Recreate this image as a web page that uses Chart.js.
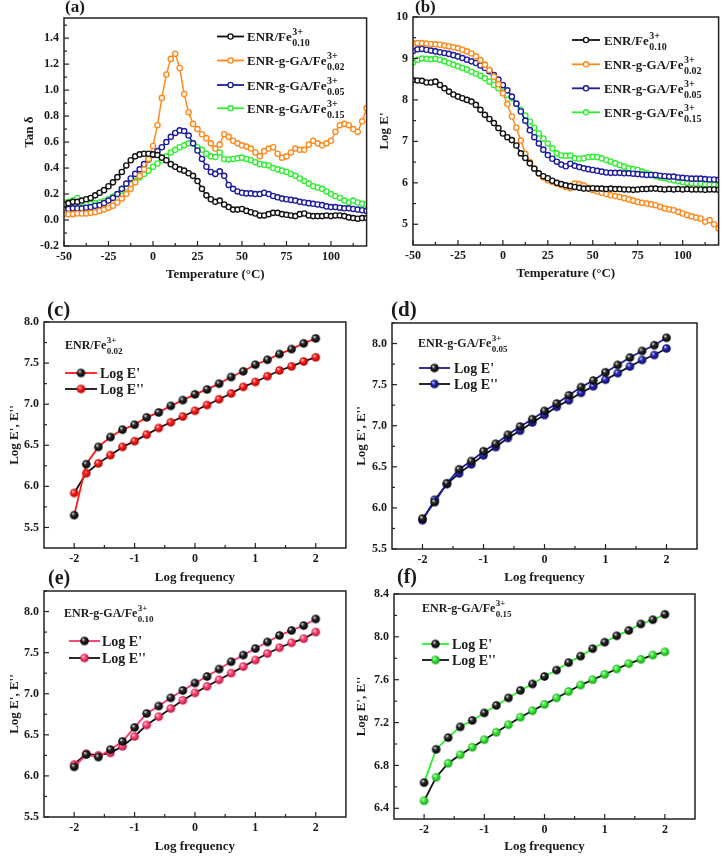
<!DOCTYPE html>
<html><head><meta charset="utf-8">
<script src="https://cdn.jsdelivr.net/npm/chart.js@4.4.1/dist/chart.umd.min.js"></script>
<style>
html,body{margin:0;padding:0;background:#fff;}
body{width:724px;height:856px;position:relative;overflow:hidden;}
</style></head><body>
<script>
// ---------------- data ----------------
const tempC = [-50,-47.5,-45,-42.5,-40,-37.5,-35,-32.5,-30,-27.5,-25,-22.5,-20,-17.5,-15,-12.5,-10,-7.5,-5,-2.5,0,2.5,5,7.5,10,12.5,15,17.5,20,22.5,25,27.5,30,32.5,35,37.5,40,42.5,45,47.5,50,52.5,55,57.5,60,62.5,65,67.5,70,72.5,75,77.5,80,82.5,85,87.5,90,92.5,95,97.5,100,102.5,105,107.5,110,112.5,115,117.5,120];

const tanEnrFe010 = [0.12,0.13,0.14,0.14,0.15,0.16,0.17,0.19,0.21,0.23,0.26,0.29,0.33,0.37,0.42,0.46,0.49,0.505,0.51,0.51,0.505,0.50,0.48,0.46,0.43,0.41,0.39,0.38,0.36,0.34,0.30,0.24,0.19,0.16,0.14,0.15,0.12,0.10,0.08,0.08,0.085,0.07,0.06,0.05,0.035,0.035,0.045,0.055,0.055,0.045,0.04,0.035,0.03,0.045,0.05,0.035,0.03,0.03,0.03,0.035,0.03,0.035,0.035,0.03,0.02,0.015,0.01,0.015,0.015];
const tanGaFe002 = [0.045,0.045,0.045,0.05,0.05,0.05,0.055,0.06,0.07,0.08,0.095,0.11,0.135,0.165,0.20,0.24,0.29,0.34,0.39,0.47,0.57,0.73,0.94,1.12,1.24,1.28,1.17,0.97,0.83,0.74,0.70,0.66,0.63,0.59,0.55,0.58,0.66,0.64,0.61,0.59,0.575,0.565,0.55,0.52,0.49,0.53,0.55,0.56,0.51,0.48,0.49,0.52,0.55,0.54,0.54,0.58,0.61,0.59,0.575,0.59,0.61,0.68,0.73,0.74,0.73,0.70,0.68,0.76,0.86];
const tanGaFe005 = [0.08,0.085,0.09,0.09,0.09,0.095,0.10,0.11,0.115,0.13,0.15,0.17,0.20,0.24,0.28,0.32,0.355,0.39,0.43,0.465,0.50,0.53,0.56,0.60,0.64,0.67,0.69,0.685,0.65,0.59,0.535,0.47,0.41,0.37,0.355,0.375,0.34,0.27,0.24,0.22,0.21,0.205,0.205,0.20,0.20,0.21,0.20,0.185,0.175,0.165,0.16,0.155,0.15,0.14,0.135,0.13,0.125,0.12,0.115,0.105,0.10,0.10,0.095,0.09,0.09,0.085,0.08,0.075,0.07];
const tanGaFe015 = [0.135,0.14,0.15,0.17,0.135,0.13,0.125,0.13,0.135,0.145,0.16,0.18,0.20,0.225,0.25,0.275,0.30,0.33,0.355,0.38,0.41,0.435,0.46,0.49,0.52,0.54,0.56,0.575,0.59,0.59,0.56,0.54,0.51,0.49,0.485,0.52,0.47,0.465,0.47,0.475,0.48,0.47,0.46,0.445,0.43,0.425,0.42,0.40,0.39,0.38,0.37,0.355,0.34,0.32,0.30,0.28,0.26,0.25,0.24,0.22,0.20,0.185,0.17,0.15,0.135,0.15,0.135,0.125,0.12];

const logEEnrFe010 = [8.48,8.47,8.46,8.42,8.42,8.44,8.36,8.28,8.20,8.13,8.08,8.04,8.00,7.96,7.88,7.76,7.64,7.54,7.44,7.32,7.19,7.10,7.03,6.90,6.71,6.60,6.47,6.34,6.23,6.16,6.11,6.05,6.00,5.97,5.94,5.92,5.90,5.88,5.86,5.86,5.87,5.86,5.86,5.85,5.86,5.85,5.85,5.84,5.84,5.83,5.84,5.85,5.85,5.86,5.86,5.85,5.84,5.85,5.84,5.85,5.84,5.85,5.84,5.84,5.84,5.83,5.84,5.84,5.83];
const logEGaFe002 = [9.37,9.37,9.37,9.36,9.35,9.34,9.33,9.31,9.29,9.27,9.25,9.21,9.17,9.12,9.05,8.96,8.85,8.72,8.56,8.38,8.16,7.90,7.60,7.33,7.02,6.70,6.50,6.35,6.22,6.13,6.06,6.02,5.98,5.94,5.90,5.87,5.98,5.97,5.94,5.88,5.82,5.79,5.76,5.73,5.70,5.68,5.66,5.63,5.60,5.57,5.54,5.52,5.50,5.48,5.46,5.42,5.38,5.36,5.34,5.30,5.26,5.22,5.19,5.16,5.14,5.06,5.10,5.00,4.90];
const logEGaFe005 = [9.18,9.22,9.23,9.21,9.19,9.17,9.15,9.13,9.11,9.08,9.05,9.01,8.97,8.93,8.89,8.83,8.77,8.69,8.60,8.49,8.36,8.23,8.08,7.91,7.72,7.50,7.27,7.10,6.95,6.80,6.67,6.58,6.51,6.44,6.40,6.46,6.41,6.38,6.35,6.33,6.31,6.29,6.27,6.25,6.24,6.24,6.24,6.23,6.23,6.22,6.21,6.20,6.19,6.19,6.19,6.17,6.16,6.15,6.15,6.13,6.12,6.11,6.10,6.10,6.10,6.09,6.08,6.08,6.07];
const logEGaFe015 = [8.90,8.97,9.00,8.99,8.98,8.99,8.97,8.93,8.89,8.85,8.81,8.77,8.73,8.68,8.63,8.58,8.52,8.44,8.36,8.28,8.20,8.12,8.04,7.90,7.76,7.62,7.48,7.33,7.19,7.07,6.95,6.83,6.71,6.66,6.65,6.66,6.59,6.58,6.59,6.62,6.63,6.62,6.59,6.55,6.51,6.47,6.43,6.39,6.35,6.33,6.31,6.27,6.23,6.20,6.16,6.13,6.11,6.08,6.06,6.04,6.02,6.00,5.99,5.98,5.98,5.97,5.96,5.95,5.94];

const logFreq = [-2,-1.8,-1.6,-1.4,-1.2,-1,-0.8,-0.6,-0.4,-0.2,0,0.2,0.4,0.6,0.8,1,1.2,1.4,1.6,1.8,2];
const ePrimeC  = [5.65,6.27,6.48,6.60,6.69,6.75,6.84,6.90,6.98,7.05,7.12,7.18,7.25,7.33,7.40,7.48,7.54,7.61,7.67,7.74,7.80];
const eDoubleC = [5.92,6.16,6.28,6.38,6.48,6.55,6.63,6.71,6.78,6.85,6.92,6.99,7.06,7.13,7.21,7.27,7.34,7.41,7.46,7.52,7.57];
const ePrimeD  = [5.87,6.07,6.30,6.47,6.57,6.69,6.78,6.89,6.99,7.08,7.18,7.27,7.37,7.47,7.55,7.65,7.74,7.83,7.91,7.98,8.07];
const eDoubleD = [5.85,6.10,6.29,6.42,6.53,6.64,6.74,6.85,6.94,7.04,7.13,7.23,7.31,7.40,7.48,7.56,7.64,7.72,7.80,7.86,7.94];
const ePrimeE  = [6.11,6.26,6.23,6.32,6.42,6.59,6.76,6.85,6.95,7.04,7.13,7.21,7.30,7.39,7.47,7.55,7.63,7.71,7.77,7.83,7.91];
const eDoubleE = [6.14,6.27,6.25,6.28,6.36,6.48,6.62,6.72,6.82,6.92,7.01,7.09,7.17,7.25,7.33,7.41,7.49,7.56,7.62,7.67,7.75];
const ePrimeF  = [6.64,6.95,7.06,7.16,7.22,7.29,7.36,7.43,7.50,7.56,7.63,7.69,7.76,7.82,7.89,7.95,8.01,8.06,8.12,8.16,8.21];
const eDoubleF = [6.47,6.69,6.82,6.90,6.97,7.04,7.11,7.18,7.25,7.31,7.37,7.43,7.49,7.55,7.60,7.65,7.70,7.75,7.79,7.83,7.86];

// tick values / labels
const tempTicks = [-50,-25,0,25,50,75,100];
const tempTickLabels = ['-50','-25','0','25','50','75','100'];
const tempMinor = [-37.5,-12.5,12.5,37.5,62.5,87.5,112.5];
const tanTicks = [-0.2,0,0.2,0.4,0.6,0.8,1.0,1.2,1.4];
const tanTickLabels = ['-0.2','0.0','0.2','0.4','0.6','0.8','1.0','1.2','1.4'];
const tanMinor = [-0.1,0.1,0.3,0.5,0.7,0.9,1.1,1.3,1.5];
const modTicks = [5,6,7,8,9,10];
const modTickLabels = ['5','6','7','8','9','10'];
const modMinor = [5.5,6.5,7.5,8.5,9.5];
const freqTicks = [-2,-1,0,1,2];
const freqTickLabels = ['-2','-1','0','1','2'];
const freqMinor = [-1.5,-0.5,0.5,1.5];
const eTicks = [5.5,6.0,6.5,7.0,7.5,8.0];
const eTickLabels = ['5.5','6.0','6.5','7.0','7.5','8.0'];
const eMinor = [5.75,6.25,6.75,7.25,7.75];
const eMinorUp = [5.75,6.25,6.75,7.25,7.75,8.25];
const eTicksF = [6.4,6.8,7.2,7.6,8.0,8.4];
const eTickLabelsF = ['6.4','6.8','7.2','7.6','8.0','8.4'];
const eMinorF = [6.6,7.0,7.4,7.8,8.2];

// series names
const tempSeries = [
  {main:'ENR/Fe', sup:'3+', sub:'0.10'},
  {main:'ENR-g-GA/Fe', sup:'3+', sub:'0.02'},
  {main:'ENR-g-GA/Fe', sup:'3+', sub:'0.05'},
  {main:'ENR-g-GA/Fe', sup:'3+', sub:'0.15'}
];

// ---------------- styling ----------------
const FONT = '"Liberation Serif", "Times New Roman", serif';
const INK = '#1a1a1a';
const C_BLACK = '#111111', C_ORANGE = '#ff8a1e', C_BLUE = '#1d1d9c', C_GREEN = '#30ee30';
const C_RED = '#ff1a1a', C_PINK = '#ff3366';

function ball(color, hi, dark, r){
  const s = Math.ceil(r*2)+2;
  const c = document.createElement('canvas'); c.width = s; c.height = s;
  const g = c.getContext('2d');
  const cx = s/2, cy = s/2;
  const grd = g.createRadialGradient(cx - r*0.35, cy - r*0.4, r*0.05, cx, cy, r);
  grd.addColorStop(0, hi); grd.addColorStop(0.38, color); grd.addColorStop(1, dark);
  g.fillStyle = grd; g.beginPath(); g.arc(cx, cy, r, 0, Math.PI*2); g.fill();
  return c;
}
const BR = 4.3;
const ballBlack = ball('#2a2a2a', '#f0f0f0', '#000000', BR);
const ballRed = ball('#ff2020', '#ffe0e0', '#b00000', BR);
const ballBlue = ball('#2a2ab8', '#e0e0ff', '#0a0a60', BR);
const ballPink = ball('#ff4d76', '#ffe8ee', '#c01040', BR);
const ballGreen = ball('#3cf03c', '#f0fff0', '#10a010', BR);

function pts(xs, ys){ return xs.map((x,i)=>({x:x, y:ys[i]})); }

function tempDs(label, ys, color){
  return {label:label, data:pts(tempC, ys), borderColor:color, borderWidth:1.5,
    pointRadius:2.6, pointBorderWidth:1.4, pointBorderColor:color, pointBackgroundColor:'#ffffff',
    fill:false, tension:0};
}
function freqDs(label, ys, lineColor, ballImg){
  return {label:label, data:pts(logFreq, ys), borderColor:lineColor, borderWidth:1.8,
    pointRadius:4.3, pointStyle:ballImg, fill:false, tension:0};
}

function chem(ctx, x, y, t, big, small, supDy, subDy){
  ctx.font = 'bold '+big+'px '+FONT;
  ctx.fillText(t.main, x, y);
  const w = ctx.measureText(t.main).width;
  ctx.font = 'bold '+small+'px '+FONT;
  ctx.fillText(t.sup, x+w+0.5, y+supDy);
  ctx.fillText(t.sub, x+w+0.5, y+subDy);
}

function decor(p){
  return {
    id:'decor_'+p.id,
    afterDraw(chart){
      const ctx = chart.ctx, a = chart.chartArea, xs = chart.scales.x, ys = chart.scales.y;
      ctx.save();
      ctx.strokeStyle = '#222'; ctx.lineWidth = 1.5;
      ctx.strokeRect(a.left, a.top, a.right-a.left, a.bottom-a.top);
      ctx.lineWidth = 1.2;
      const tick = (v, len, horiz) => {
        ctx.beginPath();
        if (horiz){ const px = xs.getPixelForValue(v); ctx.moveTo(px, a.bottom); ctx.lineTo(px, a.bottom-len); }
        else { const py = ys.getPixelForValue(v); ctx.moveTo(a.left, py); ctx.lineTo(a.left+len, py); }
        ctx.stroke();
      };
      p.xMajor.forEach(v=>tick(v,5,true)); p.xMinor.forEach(v=>tick(v,3,true));
      p.yMajor.forEach(v=>tick(v,5,false)); p.yMinor.forEach(v=>tick(v,3,false));
      // panel label
      ctx.fillStyle = INK; ctx.textBaseline = 'alphabetic'; ctx.textAlign = 'left';
      ctx.font = 'bold '+p.labelSize+'px '+FONT;
      ctx.fillText(p.label, p.labelX - p.L, p.labelY - p.T);
      // legend
      if (p.tempLegend){
        const lg = p.tempLegend;
        chart.data.datasets.forEach((ds, i) => {
          const y = a.top + lg.rows[i];
          const x0 = a.left + lg.x0, x1 = a.left + lg.x1;
          ctx.strokeStyle = ds.borderColor; ctx.lineWidth = 1.8;
          ctx.beginPath(); ctx.moveTo(x0, y); ctx.lineTo(x1, y); ctx.stroke();
          ctx.fillStyle = '#fff'; ctx.lineWidth = 1.4;
          ctx.beginPath(); ctx.arc((x0+x1)/2, y, 2.6, 0, Math.PI*2); ctx.fill(); ctx.stroke();
          ctx.fillStyle = INK;
          chem(ctx, a.left + lg.tx, y + 4.5, tempSeries[i], 13, 10, -6, 5);
        });
      }
      if (p.freqLegend){
        const lg = p.freqLegend;
        ctx.fillStyle = INK;
        chem(ctx, a.left + lg.hx, a.top + lg.hy, lg.head, 12, 9, -6.5, 4.5);
        chart.data.datasets.forEach((ds, i) => {
          const y = a.top + lg.rows[i];
          const x0 = a.left + lg.x0, x1 = a.left + lg.x1;
          ctx.strokeStyle = ds.borderColor; ctx.lineWidth = 1.8;
          ctx.beginPath(); ctx.moveTo(x0, y); ctx.lineTo(x1, y); ctx.stroke();
          const img = ds.pointStyle;
          ctx.drawImage(img, (x0+x1)/2 - img.width/2, y - img.height/2);
          ctx.fillStyle = INK;
          ctx.font = 'bold 14px '+FONT;
          ctx.fillText(ds.label, a.left + lg.tx, y + 5);
        });
      }
      ctx.restore();
    }
  };
}

function buildPanel(p){
  const cv = document.createElement('canvas');
  cv.width = p.W; cv.height = p.H;
  cv.style.cssText = 'position:absolute;left:'+p.L+'px;top:'+p.T+'px;width:'+p.W+'px;height:'+p.H+'px;';
  document.body.appendChild(cv);
  const tickFont = {family:FONT, size:12, weight:'bold'};
  const titleFont = {family:FONT, size:13, weight:'bold'};
  return new Chart(cv, {
    type:'line',
    data:{datasets:p.datasets},
    options:{
      responsive:false, animation:false, devicePixelRatio:1,
      layout:{padding:{top:p.padTop, right:p.padRight, left:0, bottom:0}},
      plugins:{legend:{display:false}, tooltip:{enabled:false}, title:{display:false}},
      scales:{
        x:{type:'linear', position:'bottom', min:p.xMin, max:p.xMax,
          afterFit:(s)=>{ s.height = p.xH; },
          afterBuildTicks:(s)=>{ s.ticks = p.xMajor.map(v=>({value:v})); },
          ticks:{autoSkip:false, maxRotation:0, minRotation:0, padding:4, font:tickFont, color:INK,
            callback:(v,i)=>p.xLabels[i]},
          grid:{display:false, drawTicks:false}, border:{display:false},
          title:{display:true, text:p.xTitle, font:titleFont, color:INK, padding:{top:0, bottom:p.xTitlePad}}},
        y:{type:'linear', position:'left', min:p.yMin, max:p.yMax,
          afterFit:(s)=>{ s.width = p.yW; },
          afterBuildTicks:(s)=>{ s.ticks = p.yMajor.map(v=>({value:v})); },
          ticks:{autoSkip:false, padding:5, font:tickFont, color:INK,
            callback:(v,i)=>p.yLabels[i]},
          grid:{display:false, drawTicks:false}, border:{display:false},
          title:{display:true, text:p.yTitle, font:titleFont, color:INK, padding:{top:p.yTitlePad, bottom:0}}}
      }
    },
    plugins:[decor(p)]
  });
}

// ---------------- panels ----------------
buildPanel({id:'a', L:0, T:0, W:372, H:292, yW:64, padTop:18, padRight:5, xH:46,
  xMin:-50, xMax:120, yMin:-0.2, yMax:1.555,
  xMajor:tempTicks, xLabels:tempTickLabels, xMinor:tempMinor,
  yMajor:tanTicks, yLabels:tanTickLabels, yMinor:tanMinor,
  xTitle:'Temperature (°C)', yTitle:'Tan δ', xTitlePad:10, yTitlePad:22,
  label:'(a)', labelSize:17, labelX:65, labelY:12,
  tempLegend:{x0:153, x1:180, tx:183, rows:[18.5, 42.5, 67, 90.3]},
  datasets:[
    tempDs('ENR/Fe3+0.10', tanEnrFe010, C_BLACK),
    tempDs('ENR-g-GA/Fe3+0.02', tanGaFe002, C_ORANGE),
    tempDs('ENR-g-GA/Fe3+0.05', tanGaFe005, C_BLUE),
    tempDs('ENR-g-GA/Fe3+0.15', tanGaFe015, C_GREEN)
  ]});

buildPanel({id:'b', L:372, T:0, W:352, H:292, yW:41, padTop:17, padRight:5, xH:47,
  xMin:-50, xMax:120, yMin:4.5, yMax:10,
  xMajor:tempTicks, xLabels:tempTickLabels, xMinor:tempMinor,
  yMajor:modTicks, yLabels:modTickLabels, yMinor:modMinor,
  xTitle:'Temperature (°C)', yTitle:"Log E'", xTitlePad:11, yTitlePad:5,
  label:'(b)', labelSize:17, labelX:415, labelY:12,
  tempLegend:{x0:159, x1:187, tx:191, rows:[23, 47.3, 71.3, 95.3]},
  datasets:[
    tempDs('ENR/Fe3+0.10', logEEnrFe010, C_BLACK),
    tempDs('ENR-g-GA/Fe3+0.02', logEGaFe002, C_ORANGE),
    tempDs('ENR-g-GA/Fe3+0.05', logEGaFe005, C_BLUE),
    tempDs('ENR-g-GA/Fe3+0.15', logEGaFe015, C_GREEN)
  ]});

buildPanel({id:'c', L:0, T:300, W:352, H:285, yW:44, padTop:22, padRight:3, xH:37,
  xMin:-2.5, xMax:2.5, yMin:5.25, yMax:8.0,
  xMajor:freqTicks, xLabels:freqTickLabels, xMinor:freqMinor,
  yMajor:eTicks, yLabels:eTickLabels, yMinor:eMinor,
  xTitle:'Log frequency', yTitle:"Log E', E''", xTitlePad:0, yTitlePad:7,
  label:'(c)', labelSize:21, labelX:47, labelY:316,
  freqLegend:{head:{main:'ENR/Fe', sup:'3+', sub:'0.02'}, hx:21, hy:27, x0:21, x1:53, tx:56, rows:[51, 67]},
  datasets:[
    freqDs("Log E'", ePrimeC, C_RED, ballBlack),
    freqDs("Log E''", eDoubleC, C_BLACK, ballRed)
  ]});

buildPanel({id:'d', L:352, T:300, W:372, H:285, yW:40, padTop:23, padRight:27, xH:36,
  xMin:-2.5, xMax:2.5, yMin:5.5, yMax:8.25,
  xMajor:freqTicks, xLabels:freqTickLabels, xMinor:freqMinor,
  yMajor:eTicks, yLabels:eTickLabels, yMinor:eMinorUp,
  xTitle:'Log frequency', yTitle:"Log E', E''", xTitlePad:0, yTitlePad:2,
  label:'(d)', labelSize:21, labelX:391, labelY:316,
  freqLegend:{head:{main:'ENR-g-GA/Fe', sup:'3+', sub:'0.05'}, hx:26, hy:24, x0:27, x1:58, tx:62, rows:[45, 61]},
  datasets:[
    freqDs("Log E'", ePrimeD, C_BLUE, ballBlack),
    freqDs("Log E''", eDoubleD, C_BLACK, ballBlue)
  ]});

buildPanel({id:'e', L:0, T:566, W:352, H:290, yW:44, padTop:25, padRight:3, xH:39,
  xMin:-2.5, xMax:2.5, yMin:5.5, yMax:8.25,
  xMajor:freqTicks, xLabels:freqTickLabels, xMinor:freqMinor,
  yMajor:eTicks, yLabels:eTickLabels, yMinor:eMinorUp,
  xTitle:'Log frequency', yTitle:"Log E', E''", xTitlePad:2, yTitlePad:7,
  label:'(e)', labelSize:20, labelX:48, labelY:584,
  freqLegend:{head:{main:'ENR-g-GA/Fe', sup:'3+', sub:'0.10'}, hx:20, hy:26, x0:25, x1:56, tx:58, rows:[50, 67]},
  datasets:[
    freqDs("Log E'", ePrimeE, C_PINK, ballBlack),
    freqDs("Log E''", eDoubleE, C_BLACK, ballPink)
  ]});

buildPanel({id:'f', L:352, T:566, W:372, H:290, yW:42, padTop:28, padRight:29, xH:37,
  xMin:-2.5, xMax:2.5, yMin:6.3, yMax:8.4,
  xMajor:freqTicks, xLabels:freqTickLabels, xMinor:freqMinor,
  yMajor:eTicksF, yLabels:eTickLabelsF, yMinor:eMinorF,
  xTitle:'Log frequency', yTitle:"Log E', E''", xTitlePad:1.5, yTitlePad:2,
  label:'(f)', labelSize:20, labelX:397, labelY:583,
  freqLegend:{head:{main:'ENR-g-GA/Fe', sup:'3+', sub:'0.15'}, hx:28, hy:18, x0:28, x1:55, tx:58, rows:[50, 66]},
  datasets:[
    freqDs("Log E'", ePrimeF, C_GREEN, ballBlack),
    freqDs("Log E''", eDoubleF, C_BLACK, ballGreen)
  ]});
</script>
</body></html>
